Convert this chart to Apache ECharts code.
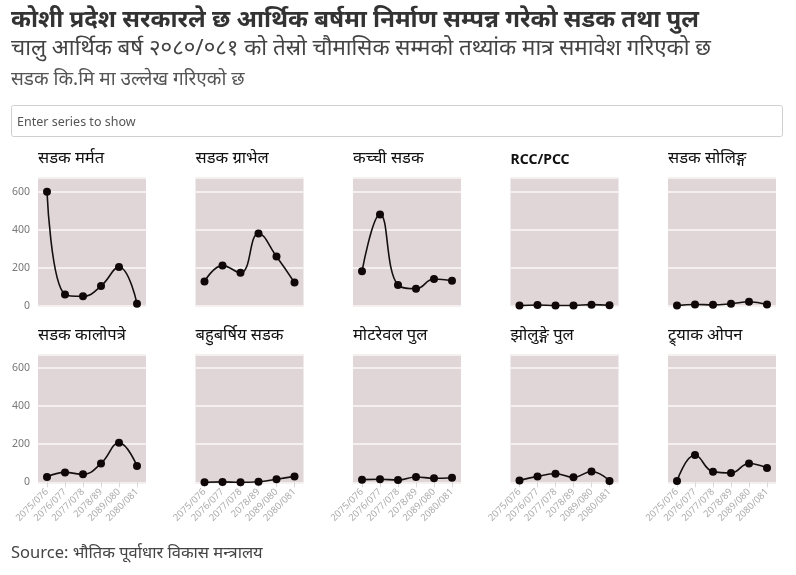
<!DOCTYPE html>
<html><head><meta charset="utf-8">
<script src="https://cdn.jsdelivr.net/npm/echarts@6/dist/echarts.min.js"></script>
<style>html,body{margin:0;padding:0;background:#fff}#c{width:796px;height:575px}</style>
</head><body><div id="c"></div>
<script>
const categories = ['2075/076','2076/077','2077/078','2078/89','2089/080','2080/081'];
const seriesNames = ['सडक मर्मत','सडक ग्राभेल','कच्ची सडक','RCC/PCC','सडक सोलिङ्ग','सडक कालोपत्रे','बहुबर्षिय सडक','मोटरेवल पुल','झोलुङ्गे पुल','ट्र्याक ओपन'];
const sadakMarmat = [600, 60, 51, 105, 205, 12];
const sadakGravel = [128, 212, 174, 381, 260, 123];
const kachchiSadak = [182, 481, 110, 91, 142, 132];
const rccPcc = [2, 5, 3, 3, 7, 4];
const sadakSoling = [2, 8, 6, 12, 22, 8];
const sadakKalopatre = [28, 52, 42, 99, 207, 85];
const bahubarshiya = [0, 2, 0, 3, 16, 31];
const motorablePul = [14, 16, 12, 28, 21, 24];
const jholungePul = [10, 31, 45, 26, 57, 7];
const trackOpen = [7, 143, 56, 49, 99, 75];
const yTicks = [0, 200, 400, 600];
const allValues = [sadakMarmat, sadakGravel, kachchiSadak, rccPcc, sadakSoling, sadakKalopatre, bahubarshiya, motorablePul, jholungePul, trackOpen];

const FONT = "'Noto Sans', sans-serif";
const chart = echarts.init(document.getElementById('c'));
const grids = [], xAxes = [], yAxes = [], series = [], titles = [];
for (let i = 0; i < 10; i++) {
  const row = Math.floor(i / 5), col = i % 5;
  const left = 38 + col * 157.5;
  const top = row === 0 ? 178 : 354.3;
  grids.push({left: left, top: top, width: 108, height: 128, show: true, backgroundColor: '#e0d6d7', borderWidth: 0, containLabel: false});
  xAxes.push({type: 'category', gridIndex: i, data: categories, boundaryGap: true,
    axisLine: {show: false},
    axisTick: {show: row === 1, alignWithLabel: true, length: 5, lineStyle: {color: '#d8d8d8'}},
    axisLabel: {show: row === 1, rotate: 45, fontSize: 9.5, color: '#ababab', fontFamily: FONT, margin: 8, interval: 0},
    splitLine: {show: false}});
  yAxes.push({type: 'value', gridIndex: i, min: 0, max: 672, interval: 200,
    axisLine: {show: false}, axisTick: {show: false},
    axisLabel: {show: col === 0, fontSize: 10.5, color: '#777', fontFamily: FONT, margin: 8,
      customValues: yTicks},
    splitLine: {show: true, lineStyle: {color: '#f4f0f0', width: 2}}});
  series.push({type: 'line', xAxisIndex: i, yAxisIndex: i, data: allValues[i], smooth: 0.45,
    symbol: 'circle', symbolSize: 8, showSymbol: true,
    lineStyle: {color: '#151010', width: 1.6}, itemStyle: {color: '#100808'}});
  titles.push({type: 'text', left: left, top: (row === 0 ? 150 : 326.5),
    style: {text: seriesNames[i], fontSize: i === 3 ? 14 : 16.5, fill: '#111', fontFamily: FONT, fontWeight: i === 3 ? 'bold' : 'normal'}});
}
titles[3].top += 3;
const graphics = [
  {type: 'text', left: 11, top: 8, style: {text: 'कोशी प्रदेश सरकारले छ आर्थिक बर्षमा निर्माण सम्पन्न गरेको सडक तथा पुल', fontSize: 24, fontWeight: 'bold', fill: '#333', fontFamily: FONT}},
  {type: 'text', left: 11, top: 38, style: {text: 'चालु आर्थिक बर्ष २०८०/०८१ को तेस्रो चौमासिक सम्मको तथ्यांक मात्र समावेश गरिएको छ', fontSize: 22.3, fill: '#444', fontFamily: FONT}},
  {type: 'text', left: 11, top: 70, style: {text: 'सडक कि.मि मा उल्लेख गरिएको छ', fontSize: 19, fill: '#555', fontFamily: FONT}},
  {type: 'rect', left: 11, top: 105, shape: {width: 771, height: 31, r: 2}, style: {fill: '#fff', stroke: '#cfcfcf', lineWidth: 1}},
  {type: 'text', left: 17, top: 116, style: {text: 'Enter series to show', fontSize: 12.5, fill: '#555', fontFamily: FONT}},
  {type: 'text', left: 11, top: 545, style: {text: 'Source: भौतिक पूर्वाधार विकास मन्त्रालय', fontSize: 16.5, fill: '#444', fontFamily: FONT}}
].concat(titles);
chart.setOption({animation: false, grid: grids, xAxis: xAxes, yAxis: yAxes, series: series, graphic: graphics});
</script></body></html>
